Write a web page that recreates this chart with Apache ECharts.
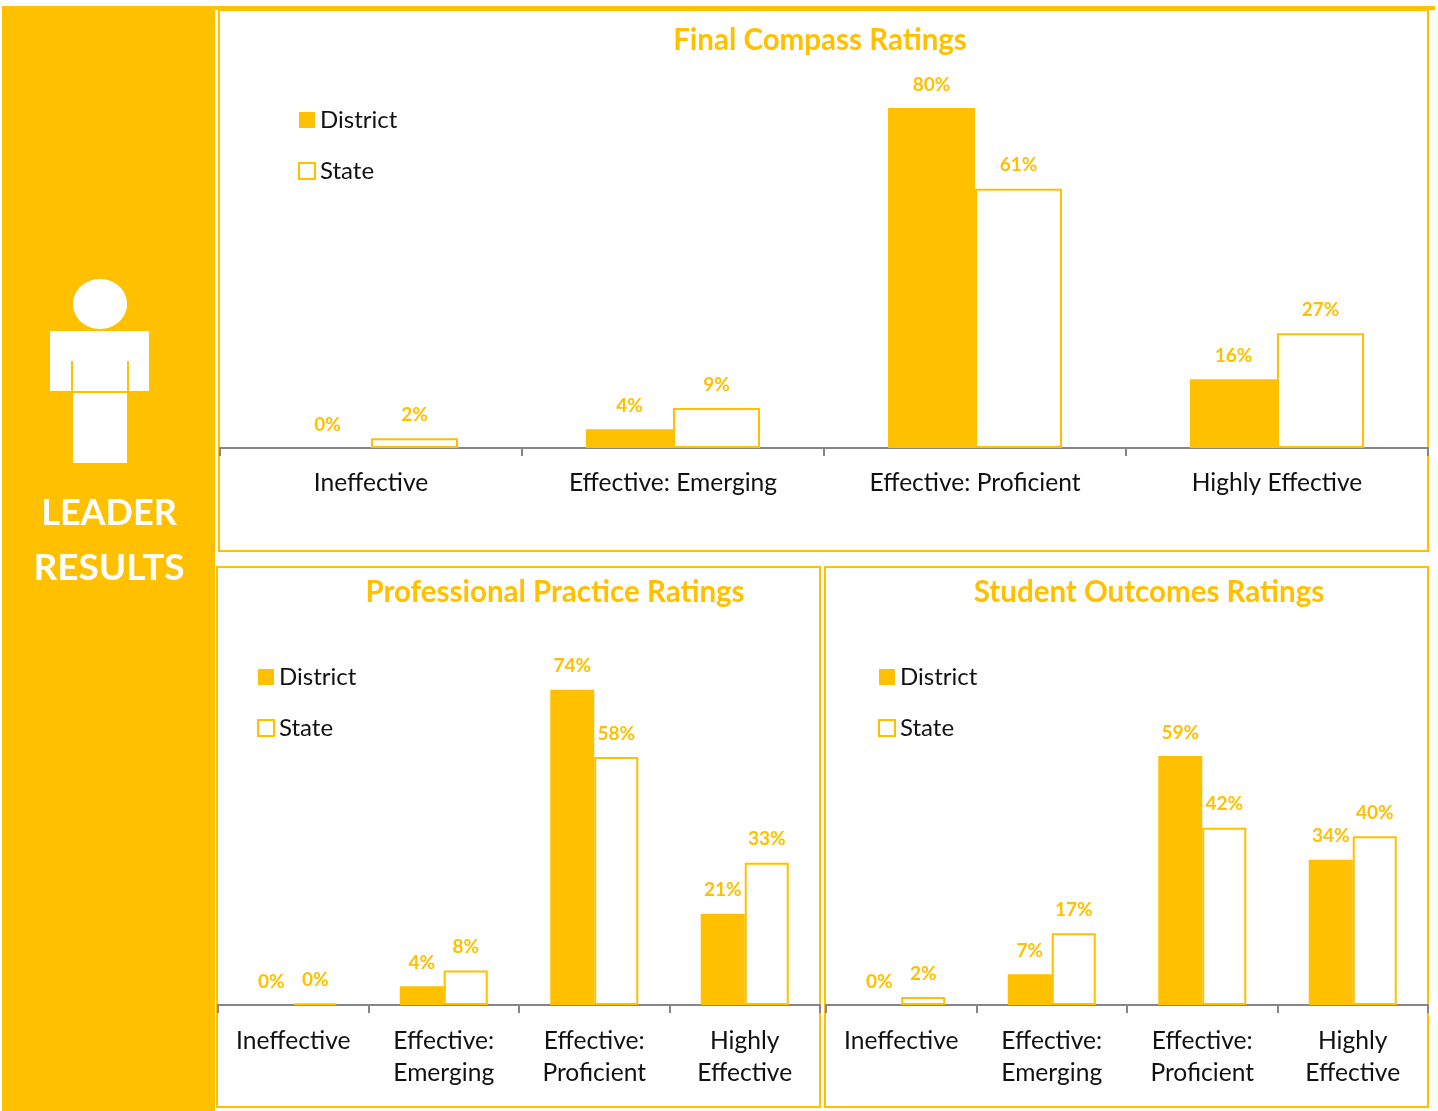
<!DOCTYPE html>
<html><head><meta charset="utf-8">
<style>html,body{margin:0;padding:0;background:#fff}#c{width:1438px;height:1111px}</style>
<script src="https://cdn.jsdelivr.net/npm/echarts@6/dist/echarts.min.js"></script>
</head><body><div id="c"></div>
<script>
const seriesNames = ['District','State'];
const catsTop = ['Ineffective','Effective: Emerging','Effective: Proficient','Highly Effective'];
const catsBottom = ['Ineffective','Effective:\nEmerging','Effective:\nProficient','Highly\nEffective'];
const finalDistrict = [0,4.4,80,16.2];
const finalState = [2.3,9.4,61,27];
const practiceDistrict = [0,4.4,74,21.4];
const practiceState = [0.4,8.1,58.2,33.4];
const outcomesDistrict = [0,7.3,59,34.4];
const outcomesState = [1.9,17,42,40];
const titles = ['Final Compass Ratings','Professional Practice Ratings','Student Outcomes Ratings'];
const sideText = ['LEADER','RESULTS'];

const Y='#FFC000', F='Lato, Carlito, Calibri, sans-serif';
const cfg=[
 {l:220,w:1208,axisY:448,scale:4.25,bw:87,cats:catsTop,d:finalDistrict,s:finalState,tx:820,ty:25,lx:298,ly:108,m:19},
 {l:218,w:602,axisY:1005,scale:4.26,bw:44,cats:catsBottom,d:practiceDistrict,s:practiceState,tx:555,ty:577,lx:257,ly:665,m:20},
 {l:826,w:602,axisY:1005,scale:4.22,bw:44,cats:catsBottom,d:outcomesDistrict,s:outcomesState,tx:1149,ty:577,lx:878,ly:665,m:20}
];
const YMAX=90;
const lab={show:true,position:'top',distance:14,color:Y,fontFamily:F,fontWeight:'bold',fontSize:19,
  formatter:p=>Math.round(p.value)+'%'};
const option={
 animation:false,
 title:cfg.map((c,i)=>({text:titles[i],left:c.tx,top:c.ty,padding:0,textAlign:'center',
   textStyle:{color:Y,fontFamily:F,fontWeight:'bold',fontSize:29.5}})),
 legend:cfg.map(c=>({orient:'vertical',left:c.lx,top:c.ly,itemWidth:16,itemHeight:16,itemGap:27,padding:0,
   icon:'rect',data:seriesNames,selectedMode:false,
   textStyle:{color:'#111',fontFamily:F,fontSize:24}})),
 grid:cfg.map(c=>({left:c.l,width:c.w,top:c.axisY-YMAX*c.scale,height:YMAX*c.scale})),
 xAxis:cfg.map((c,i)=>({type:'category',gridIndex:i,data:c.cats,
   axisLine:{lineStyle:{color:'#868686',width:2}},
   axisTick:{show:true,alignWithLabel:false,length:8,lineStyle:{color:'#868686',width:2}},
   axisLabel:{color:'#111',fontFamily:F,fontSize:24.6,lineHeight:32,margin:c.m,interval:0}})),
 yAxis:cfg.map((c,i)=>({type:'value',gridIndex:i,min:0,max:YMAX,show:false,splitLine:{show:false}})),
 series:cfg.flatMap((c,i)=>[
  {name:seriesNames[0],type:'bar',xAxisIndex:i,yAxisIndex:i,data:c.d,barWidth:c.bw,barGap:0,
   itemStyle:{color:Y},label:lab},
  {name:seriesNames[1],type:'bar',xAxisIndex:i,yAxisIndex:i,data:c.s,barWidth:c.bw,barGap:0,
   itemStyle:{color:'#fff',borderColor:Y,borderWidth:2},label:lab}
 ]),
 graphic:[
  {type:'rect',shape:{x:2,y:6,width:213,height:1105},style:{fill:Y},z:-5},
  {type:'rect',shape:{x:215,y:6,width:1220,height:4},style:{fill:Y},z:-5},
  {type:'rect',shape:{x:219,y:10,width:1209,height:541},style:{fill:'none',stroke:Y,lineWidth:2},z:-5},
  {type:'rect',shape:{x:217,y:567,width:603,height:540},style:{fill:'none',stroke:Y,lineWidth:2},z:-5},
  {type:'rect',shape:{x:825,y:567,width:603,height:540},style:{fill:'none',stroke:Y,lineWidth:2},z:-5},
  {type:'ellipse',shape:{cx:100,cy:304,rx:27,ry:25},style:{fill:'#fff'},z:5},
  {type:'rect',shape:{x:50,y:331,width:99,height:60},style:{fill:'#fff'},z:5},
  {type:'rect',shape:{x:73,y:393,width:54,height:70},style:{fill:'#fff'},z:5},
  {type:'rect',shape:{x:71,y:361,width:2,height:30},style:{fill:Y},z:6},
  {type:'rect',shape:{x:127,y:361,width:2,height:30},style:{fill:Y},z:6},
  {type:'text',x:109,y:513,style:{text:sideText[0],fill:'#fff',font:'bold 36px '+F,textAlign:'center',textVerticalAlign:'middle'},z:5},
  {type:'text',x:109,y:568,style:{text:sideText[1],fill:'#fff',font:'bold 37px '+F,textAlign:'center',textVerticalAlign:'middle'},z:5}
 ]
};
echarts.init(document.getElementById('c'),null,{renderer:'canvas'}).setOption(option);
</script></body></html>
